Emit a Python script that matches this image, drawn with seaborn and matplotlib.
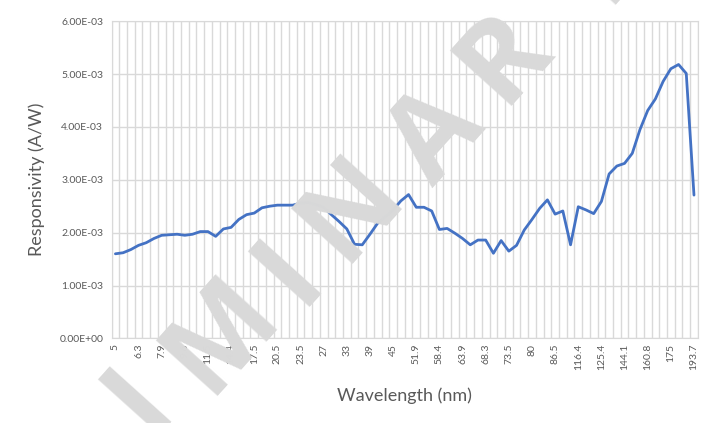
# -*- coding: utf-8 -*-

# %% import
import numpy as np
import pandas as pd
import matplotlib.pyplot as plt
import matplotlib.ticker as mticker
import seaborn as sns

# %% data (responsivity in mA/W)
resp_mAW = [1.60, 1.62, 1.68, 1.76, 1.81, 1.89, 1.95, 1.96, 1.97, 1.95,
            1.97, 2.02, 2.02, 1.93, 2.07, 2.10, 2.25, 2.34, 2.37, 2.47,
            2.50, 2.52, 2.52, 2.52, 2.56, 2.57, 2.53, 2.48, 2.34, 2.21,
            2.07, 1.78, 1.77, 1.97, 2.18, 2.30, 2.43, 2.60, 2.72, 2.48,
            2.48, 2.41, 2.06, 2.08, 1.99, 1.89, 1.77, 1.86, 1.86, 1.61,
            1.85, 1.65, 1.76, 2.05, 2.25, 2.46, 2.62, 2.35, 2.41, 1.77,
            2.49, 2.43, 2.36, 2.59, 3.11, 3.26, 3.31, 3.50, 3.95, 4.31,
            4.53, 4.86, 5.10, 5.18, 5.01, 2.71]
# every third wavelength is labelled on the axis
wl_labels = ['5', '6.3', '7.9', '9.6', '11.5', '14.4', '17.5', '20.5', '23.5',
             '27', '33', '39', '45', '51.9', '58.4', '63.9', '68.3', '73.5',
             '80', '86.5', '116.4', '125.4', '144.1', '160.8', '175', '193.7']

df = pd.DataFrame({'idx': np.arange(len(resp_mAW)),
                   'resp': np.array(resp_mAW) * 1e-3})

# %% plot
sns.set_style('white')
plt.rcParams['font.family'] = ['Lato', 'DejaVu Sans']

fig = plt.figure(figsize=(7.15, 4.23), dpi=100)
ax = fig.add_axes([0.156, 0.200, 0.820, 0.750])

sns.lineplot(data=df, x='idx', y='resp', ax=ax, color='#4472C4', lw=2.0)

grid_c = '#d9d9d9'
ax.set_xlim(-0.5, len(resp_mAW) - 0.5)
ax.set_ylim(0, 6e-3)
ax.set_yticks(np.arange(0, 6.01e-3, 1e-3))
ax.yaxis.set_major_formatter(mticker.FuncFormatter(lambda v, p: '{:.2E}'.format(v)))
ax.set_xticks(np.arange(0, len(resp_mAW), 3))
ax.set_xticklabels(wl_labels, rotation=90)
ax.set_xticks(np.arange(-0.5, len(resp_mAW), 1), minor=True)
ax.grid(axis='x', which='minor', color=grid_c, lw=1)
ax.grid(axis='y', which='major', color=grid_c, lw=1)
ax.tick_params(which='both', length=0)
ax.tick_params(axis='y', labelsize=7.5, labelcolor='#595959', pad=6)
ax.tick_params(axis='x', labelsize=7.5, labelcolor='#595959', pad=4)
for s in ax.spines.values():
    s.set_color(grid_c)

ax.set_xlabel('Wavelength (nm)', fontsize=13, color='#595959', labelpad=12)
ax.set_ylabel('Responsivity (A/W)', fontsize=13, color='#595959', labelpad=10)

# watermark
wm = [('I', 140, 400), ('M', 222, 335), ('I', 290, 272), ('N', 352, 208),
      ('A', 437, 138), ('R', 505, 57), ('Y', 600, -22)]
for ch, px, py in wm:
    fig.text(px / 715, 1 - py / 423, ch, rotation=48, ha='center', va='center',
             fontsize=84, fontweight='bold', color='#d9d9d9',
             family='Open Sans', zorder=10)

plt.savefig('out.png', dpi=100)
